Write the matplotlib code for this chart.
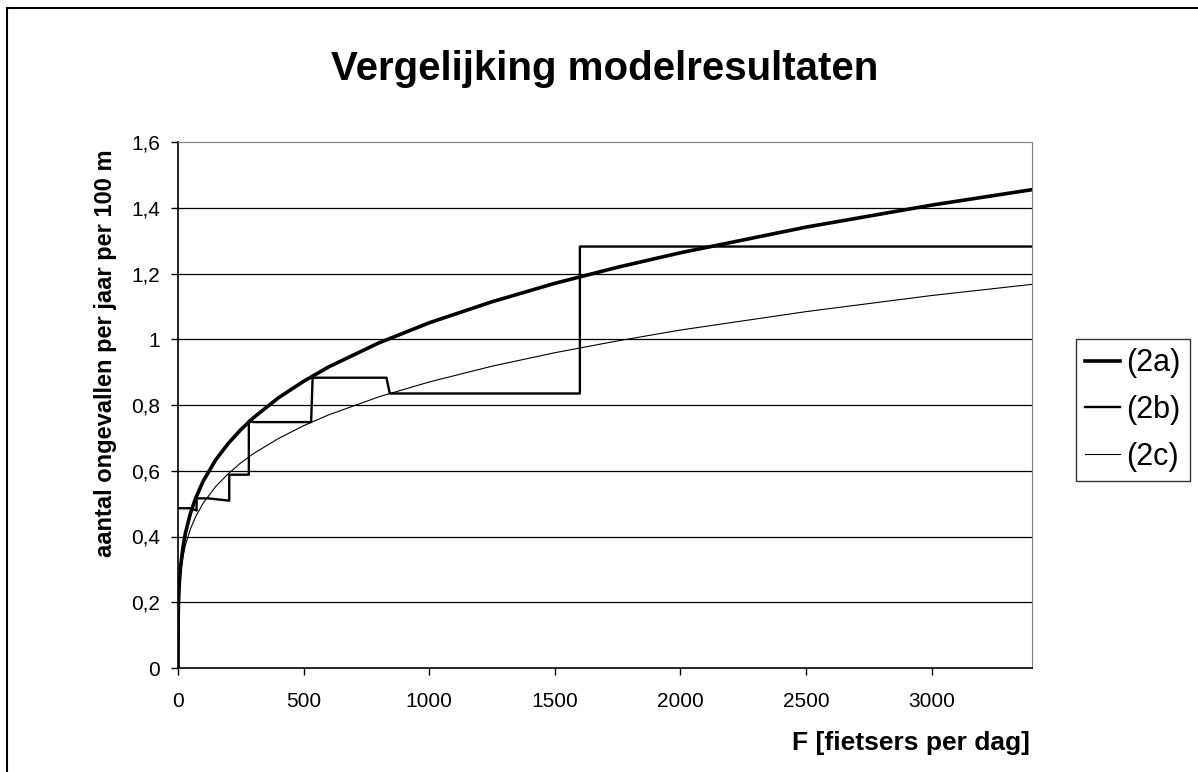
import numpy as np
import matplotlib
matplotlib.use('Agg')
import matplotlib.pyplot as plt
from matplotlib.lines import Line2D

plt.rcParams['font.family'] = ['Liberation Sans', 'DejaVu Sans']

# waarden
F_curve = [0, 1, 2, 5, 10, 20, 30, 50, 70, 100, 150, 200, 250, 300, 400, 500,
           600, 800, 1000, 1250, 1500, 1750, 2000, 2500, 3000, 3400]
val_2a = [0, 0.166, 0.200, 0.255, 0.307, 0.369, 0.412, 0.472, 0.516, 0.568, 0.633,
          0.683, 0.725, 0.761, 0.822, 0.872, 0.916, 0.989, 1.050, 1.114, 1.170,
          1.219, 1.263, 1.341, 1.408, 1.455]
val_2c = [0, 0.166, 0.196, 0.244, 0.288, 0.340, 0.375, 0.424, 0.460, 0.501, 0.552,
          0.591, 0.624, 0.652, 0.698, 0.737, 0.770, 0.825, 0.870, 0.918, 0.959,
          0.995, 1.028, 1.084, 1.133, 1.167]

F_step = [0, 50, 74, 74, 120, 204, 204, 282, 282, 300, 530, 536, 830, 843, 1600, 1600, 3400]
val_2b = [0.486, 0.486, 0.479, 0.516, 0.516, 0.509, 0.588, 0.588, 0.752, 0.748, 0.748,
          0.883, 0.883, 0.835, 0.835, 1.282, 1.282]

xticks = [0, 500, 1000, 1500, 2000, 2500, 3000]
yticks = [0, 0.2, 0.4, 0.6, 0.8, 1.0, 1.2, 1.4, 1.6]
ylabels = ['0', '0,2', '0,4', '0,6', '0,8', '1', '1,2', '1,4', '1,6']

fig = plt.figure(figsize=(11.98, 7.72), dpi=100)
ax = fig.add_axes([178/1198, 1 - 668/772, (1032-178)/1198, (668-142)/772])

for y in yticks[1:-1]:
    ax.axhline(y, color='black', lw=0.9, zorder=1)

l2c, = ax.plot(F_curve, val_2c, color='black', lw=0.8, zorder=3)
l2b, = ax.plot(F_step, val_2b, color='black', lw=1.7, zorder=4)
l2a, = ax.plot(F_curve, val_2a, color='black', lw=2.6, zorder=5,
               solid_capstyle='round')

ax.set_xlim(0, 3400)
ax.set_ylim(0, 1.6)
ax.set_xticks(xticks)
ax.set_yticks(yticks)
ax.set_yticklabels(ylabels)
ax.tick_params(direction='out', length=5, width=1, labelsize=15)
ax.tick_params(axis='y', pad=8)
ax.tick_params(axis='x', pad=12)

ax.spines['left'].set_color('black')
ax.spines['bottom'].set_color('black')
ax.spines['left'].set_linewidth(1.2)
ax.spines['bottom'].set_linewidth(1.2)
ax.spines['top'].set_color('#808080')
ax.spines['right'].set_color('#808080')

fig.text(106/1198, 1 - 353/772, 'aantal ongevallen per jaar per 100 m', fontsize=17,
         fontweight='bold', ha='center', va='center', rotation=90)
fig.text(1030/1198, 1 - 743/772, 'F [fietsers per dag]', fontsize=19,
         fontweight='bold', ha='right', va='center')

fig.text(605/1198, 1 - 80/772, 'Vergelijking modelresultaten', fontsize=29,
         fontweight='bold', ha='center', va='baseline')

handles = [Line2D([], [], color='black', lw=2.6),
           Line2D([], [], color='black', lw=1.7),
           Line2D([], [], color='black', lw=0.8)]
leg = fig.legend(handles, ['(2a)', '(2b)', '(2c)'], loc='center left',
                 bbox_to_anchor=(1076/1198, 1 - 410/772), fontsize=22,
                 frameon=True, fancybox=False, edgecolor='black',
                 handlelength=1.15, handletextpad=0.2, labelspacing=0.55,
                 borderpad=0.3, borderaxespad=0)
leg.get_frame().set_linewidth(1.0)

# rand om de hele grafiek
fig.add_artist(plt.Line2D([7/1198, 7/1198], [0, 1 - 8/772], color='black',
                          lw=1.5, transform=fig.transFigure))
fig.add_artist(plt.Line2D([7/1198, 1], [1 - 8/772, 1 - 8/772], color='black',
                          lw=1.5, transform=fig.transFigure))

fig.savefig('out.png', dpi=100)
